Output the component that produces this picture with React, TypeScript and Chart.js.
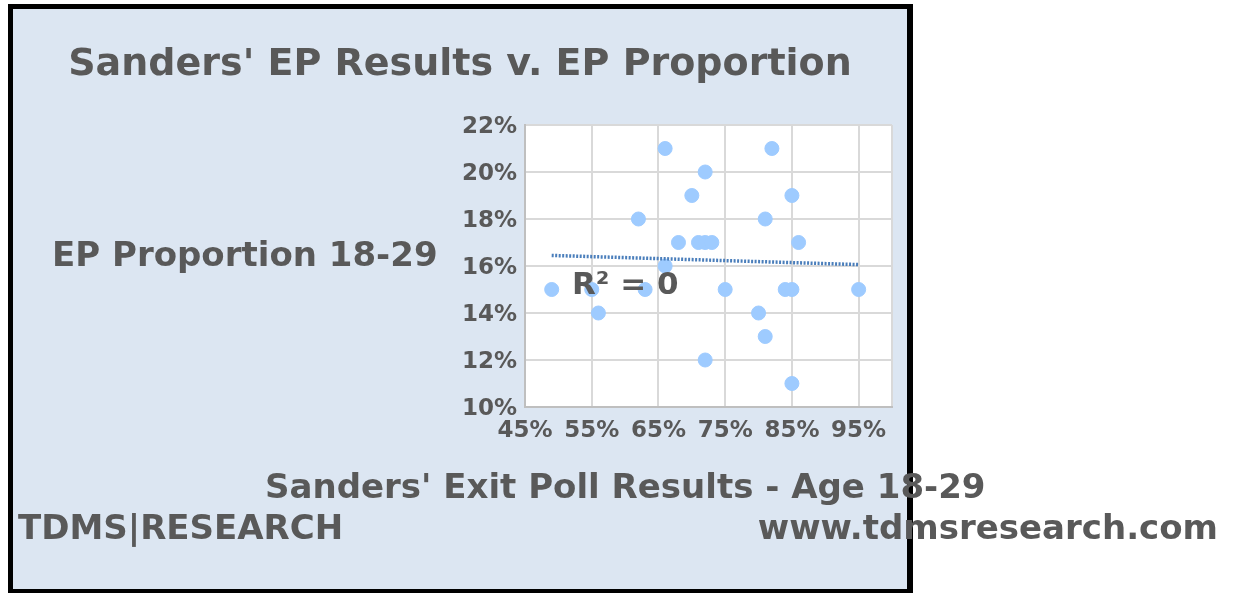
import React, { useEffect, useRef } from "react";
import { Chart, registerables } from "chart.js";

Chart.register(...registerables);

const EXIT_POLL = [0.66, 0.82, 0.72, 0.70, 0.85, 0.62, 0.81, 0.68, 0.71, 0.72, 0.73, 0.86, 0.66, 0.49, 0.55, 0.63, 0.75, 0.84, 0.85, 0.95, 0.56, 0.80, 0.81, 0.72, 0.85];
const EP_PROPORTION = [0.21, 0.21, 0.20, 0.19, 0.19, 0.18, 0.18, 0.17, 0.17, 0.17, 0.17, 0.17, 0.16, 0.15, 0.15, 0.15, 0.15, 0.15, 0.15, 0.15, 0.14, 0.14, 0.13, 0.12, 0.11];
const TREND_X = [0.49, 0.95];
const TREND_Y = [0.1645, 0.1606];
const X_TICKS = [0.45, 0.55, 0.65, 0.75, 0.85, 0.95, 1.0];
const Y_TICKS = [0.10, 0.12, 0.14, 0.16, 0.18, 0.20, 0.22];

const TITLE = "Sanders' EP Results v. EP Proportion";
const X_TITLE = "Sanders' Exit Poll Results - Age 18-29";
const Y_TITLE = "EP Proportion 18-29";
const R2_LABEL = "R² = 0";
const FOOT_LEFT = "TDMS|RESEARCH";
const FOOT_RIGHT = "www.tdmsresearch.com";

const FONT = "'DejaVu Sans', sans-serif";
const TEXT = "#595959";

export default function App() {
  const ref = useRef<HTMLCanvasElement>(null);
  useEffect(() => {
    const ctx = ref.current!;
    const bgPlugin = {
      id: "bg",
      beforeDraw(chart: any) {
        const c = chart.ctx;
        const a = chart.chartArea;
        c.save();
        c.fillStyle = "#ffffff";
        c.fillRect(0, 0, chart.width, chart.height);
        c.fillStyle = "#000000";
        c.fillRect(8, 4, 905, 592);
        c.fillStyle = "#dce6f2";
        c.fillRect(13, 9, 894, 580);
        c.fillStyle = "#ffffff";
        c.fillRect(a.left, a.top, a.right - a.left, a.bottom - a.top);
        c.restore();
      },
      afterDraw(chart: any) {
        const c = chart.ctx;
        c.save();
        c.fillStyle = TEXT;
        c.textBaseline = "middle";
        c.textAlign = "center";
        c.font = `bold 38px ${FONT}`;
        c.fillText(TITLE, 460, 65);
        c.font = `bold 34px ${FONT}`;
        c.textAlign = "left";
        c.fillText(Y_TITLE, 52, 257);
        c.fillText(X_TITLE, 265, 489);
        c.fillText(FOOT_LEFT, 18, 530);
        c.textAlign = "right";
        c.fillText(FOOT_RIGHT, 1218, 530);
        c.textAlign = "left";
        c.font = `bold 31px ${FONT}`;
        c.fillText(R2_LABEL, 572, 286);
        c.restore();
      },
    };
    const chart = new Chart(ctx, {
      type: "scatter",
      data: {
        datasets: [
          {
            type: "line",
            data: TREND_X.map((x, i) => ({ x, y: TREND_Y[i] })),
            borderColor: "#4a7ebb",
            borderWidth: 3.5,
            borderDash: [2, 1.5],
            pointRadius: 0,
            fill: false,
            order: 0,
          } as any,
          {
            data: EXIT_POLL.map((x, i) => ({ x, y: EP_PROPORTION[i] })),
            backgroundColor: "#9ecbff",
            borderColor: "#9ecbff",
            pointRadius: 7,
            order: 1,
          },
        ],
      },
      options: {
        responsive: false,
        animation: false,
        layout: { padding: { left: 445, right: 343, top: 125, bottom: 146 } },
        plugins: { legend: { display: false }, tooltip: { enabled: false }, title: { display: false } },
        scales: {
          x: {
            type: "linear",
            min: 0.45,
            max: 1.0,
            afterBuildTicks: (s: any) => { s.ticks = X_TICKS.map((v) => ({ value: v })); },
            afterFit: (s: any) => { s.height = 40; },
            ticks: {
              autoSkip: false,
              maxRotation: 0,
              padding: 10,
              color: TEXT,
              font: { family: FONT, size: 23, weight: "bold" },
              callback: (v: any) => (v >= 0.999 ? "" : Math.round(v * 100) + "%"),
            },
            grid: { color: "#d9d9d9", lineWidth: 2, drawTicks: false },
            border: { color: "#bfbfbf", width: 2 },
          },
          y: {
            type: "linear",
            min: 0.10,
            max: 0.22,
            afterBuildTicks: (s: any) => { s.ticks = Y_TICKS.map((v) => ({ value: v })); },
            afterFit: (s: any) => { s.width = 80; },
            ticks: {
              padding: 8,
              labelOffset: 2,
              color: TEXT,
              font: { family: FONT, size: 23, weight: "bold" },
              callback: (v: any) => Math.round(v * 100) + "%",
            },
            grid: { color: "#d9d9d9", lineWidth: 2, drawTicks: false },
            border: { color: "#bfbfbf", width: 2 },
          },
        },
      },
      plugins: [bgPlugin],
    } as any);
    return () => chart.destroy();
  }, []);
  return (
    <div style={{ position: "absolute", left: 0, top: 0, width: 1235, height: 593 }}>
      <canvas ref={ref} width={1235} height={593} style={{ display: "block" }} />
    </div>
  );
}
